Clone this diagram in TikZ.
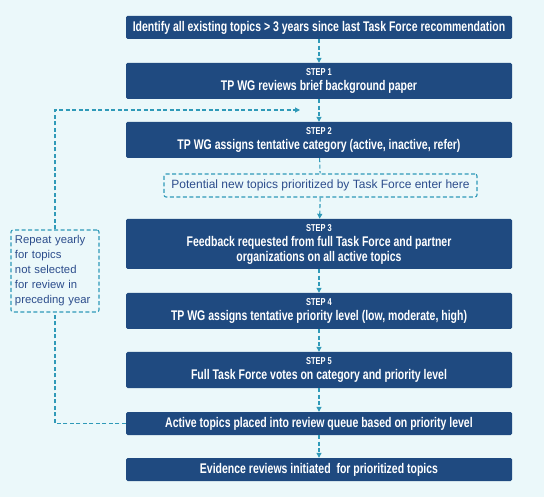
\documentclass[tikz,border=0pt]{standalone}
\usepackage{fontspec}
\setmainfont{Liberation Sans}
\newfontfamily\condfont[FakeStretch=0.75]{Liberation Sans}
\usepackage{tikz}
\usetikzlibrary{arrows.meta,positioning}
\definecolor{bgblue}{HTML}{EBF8FA}
\definecolor{boxblue}{HTML}{1F4A80}
\definecolor{dashcyan}{HTML}{2F9AB8}
\definecolor{notetext}{HTML}{2C4D8C}
\newcommand{\steplbl}[1]{{\fontsize{10}{11}\selectfont STEP #1}\\[0pt]}

\begin{document}
\begin{tikzpicture}[x=1pt, y=-1pt,
    stepbox/.style={fill=boxblue, rounded corners=1.5pt, minimum width=386pt, align=center, text=white, font=\condfont\bfseries\fontsize{14}{15}\selectfont, inner sep=0pt},
    notebox/.style={draw=dashcyan, dashed, dash pattern=on 4pt off 2.5pt, line width=1.1pt, rounded corners=2pt, text=notetext, inner sep=0pt},
    arr/.style={draw=dashcyan, dash pattern=on 4pt off 2.5pt, line width=1.1pt, -{Triangle[length=5pt,width=5pt]}},
    dline/.style={draw=dashcyan, dash pattern=on 4pt off 2.5pt, line width=1.1pt}
]
\fill[bgblue] (0,0) rectangle (544,497);
\useasboundingbox (0,0) rectangle (544,497);

\node[stepbox, minimum height=23pt] (top) at (319,27.5) {Identify all existing topics > 3 years since last Task Force recommendation};
\node[stepbox, minimum height=36pt] (s1) at (319,81) {\steplbl{1}TP WG reviews brief background paper};
\node[stepbox, minimum height=36pt] (s2) at (319,140) {\steplbl{2}TP WG assigns tentative category (active, inactive, refer)};
\node[notebox, minimum width=313pt, minimum height=23pt, font=\fontsize{12}{14}\selectfont] (pot) at (320.5,185.5) {Potential new topics prioritized by Task Force enter here};
\node[stepbox, minimum height=50pt] (s3) at (319,244) {\steplbl{3}Feedback requested from full Task Force and partner\\organizations on all active topics};
\node[stepbox, minimum height=36pt] (s4) at (319,311) {\steplbl{4}TP WG assigns tentative priority level (low, moderate, high)};
\node[stepbox, minimum height=36pt] (s5) at (319,370) {\steplbl{5}Full Task Force votes on category and priority level};
\node[stepbox, minimum height=23pt] (act) at (319,423.5) {Active topics placed into review queue based on priority level};
\node[stepbox, minimum height=23pt] (evd) at (319,469.5) {Evidence reviews initiated\ \ for prioritized topics};
\node[notebox, minimum width=88pt, minimum height=82pt, align=left, text width=80pt, font=\fontsize{11.3}{15}\selectfont] (rep) at (55,271) {Repeat yearly\\for topics\\not selected\\for review in\\preceding year};
\coordinate (back) at (300,110);

\draw[arr] (top) -- (s1);
\draw[arr] (s1) -- (s2);
\draw[dline] (s2) -- (pot);
\draw[arr] (pot) -- (s3);
\draw[arr] (s3) -- (s4);
\draw[arr] (s4) -- (s5);
\draw[arr] (s5) -- (act);
\draw[arr] (act) -- (evd);
\draw[dline] (act.west) -| (rep.south);
\draw[arr] (rep.north) |- (back);
\end{tikzpicture}
\end{document}
